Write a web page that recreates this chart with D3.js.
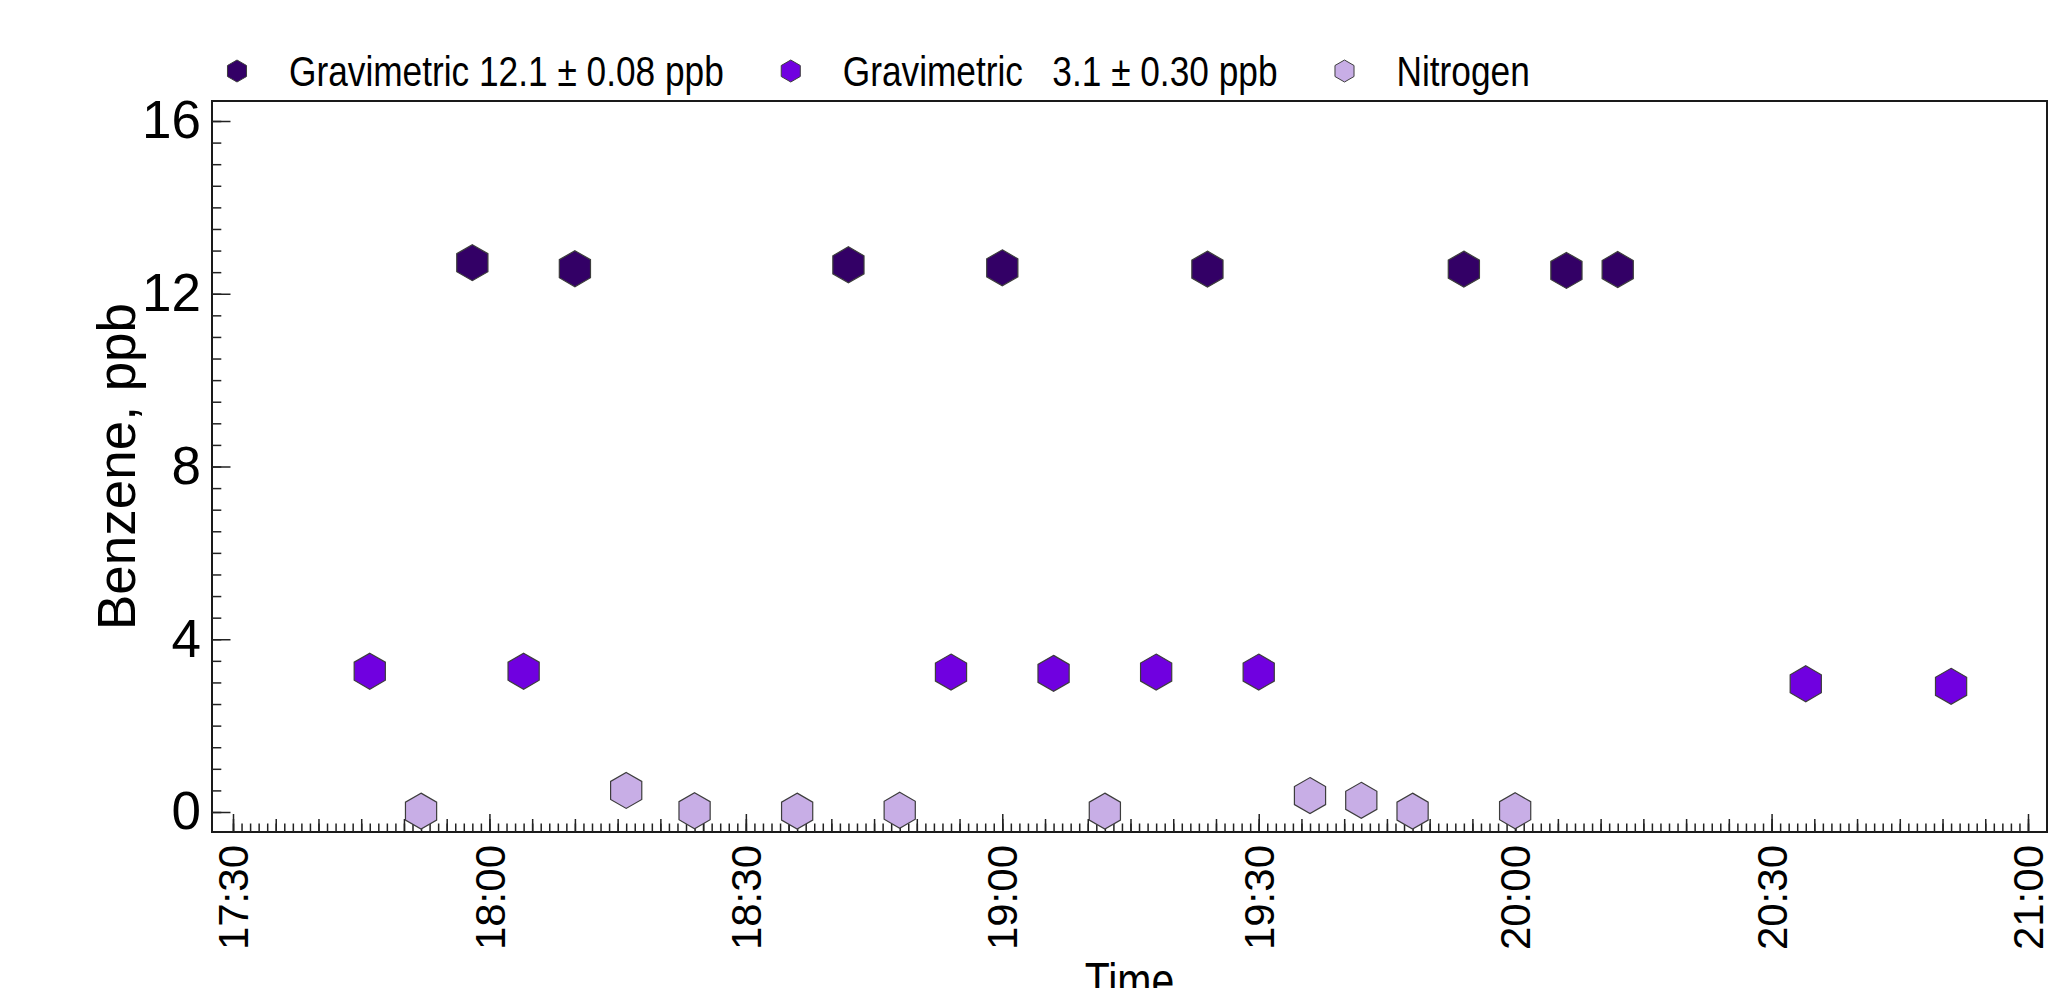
<!DOCTYPE html>
<html>
<head>
<meta charset="utf-8">
<script src="https://cdn.jsdelivr.net/npm/d3@7"></script>
<style>
  body { margin: 0; background: #fff; }
  svg { display: block; }
</style>
</head>
<body>
<svg id="chart"></svg>
<script>
// ---- data ----
const seriesNames = ['Gravimetric 12.1 ± 0.08 ppb', 'Gravimetric   3.1 ± 0.30 ppb', 'Nitrogen'];
const seriesColors = ['#330066', '#7000e0', '#c8aee6'];

const highTimes = ['17:58', '18:10', '18:42', '19:00', '19:24', '19:54', '20:06', '20:12'];
const highValues = [12.72, 12.58, 12.67, 12.60, 12.57, 12.57, 12.54, 12.56];

const lowTimes = ['17:46', '18:04', '18:54', '19:06', '19:18', '19:30', '20:34', '20:51'];
const lowValues = [3.26, 3.26, 3.24, 3.21, 3.24, 3.24, 2.97, 2.91];

const nitrogenTimes = ['17:52', '18:16', '18:24', '18:36', '18:48', '19:12', '19:36', '19:42', '19:48', '20:00'];
const nitrogenValues = [0.02, 0.50, 0.03, 0.02, 0.04, 0.02, 0.38, 0.27, 0.02, 0.03];

const xDomain = ['17:30', '21:00'];
const yTicks = [0, 4, 8, 12, 16];

const sans = '"Liberation Sans", Arial, Helvetica, sans-serif';
// no narrow face installed, so the condensed texts are squeezed horizontally
const narrowScale = 0.82;

// pointy-top hexagon for d3.symbol
const hexagon = {
  draw(context, size) {
    const r = Math.sqrt(size * 2 / (3 * Math.sqrt(3)));
    for (let i = 0; i < 6; i++) {
      const a = (-90 + 60 * i) * Math.PI / 180;
      const px = r * Math.cos(a), py = r * Math.sin(a);
      if (i === 0) context.moveTo(px, py); else context.lineTo(px, py);
    }
    context.closePath();
  }
};
const hexSize = r => 3 * Math.sqrt(3) / 2 * r * r;

class TimeScatter {

  constructor(_config) {
    this.config = {
      parentElement: _config.parentElement,
      containerWidth: 2050,
      containerHeight: 988,
      frame: {left: 212, right: 2047, top: 101, bottom: 832},
      pad: {x0: 21, x1: 19, y0: 20, y1: 20}
    };
    this.initVis();
  }

  initVis() {
    let vis = this;
    const f = vis.config.frame, p = vis.config.pad;
    const parse = d3.timeParse('%H:%M');
    vis.parse = parse;

    vis.svg = d3.select(vis.config.parentElement)
        .attr('width', vis.config.containerWidth)
        .attr('height', vis.config.containerHeight);

    vis.x = d3.scaleTime()
        .domain(xDomain.map(parse))
        .range([f.left + p.x0, f.right - p.x1]);

    vis.y = d3.scaleLinear()
        .domain([0, 16])
        .range([f.bottom - p.y0, f.top + p.y1]);

    // frame
    vis.svg.append('rect')
        .attr('x', f.left).attr('y', f.top)
        .attr('width', f.right - f.left).attr('height', f.bottom - f.top)
        .attr('fill', 'none').attr('stroke', '#1a1a1a').attr('stroke-width', 2);

    // x ticks: minute, 5-minute and 30-minute levels, pointing inward
    const xLevels = [
      {every: 1, size: 8.5},
      {every: 5, size: 13},
      {every: 30, size: 18}
    ];
    xLevels.forEach(l => {
      const g = vis.svg.append('g')
          .attr('transform', `translate(0,${f.bottom})`)
          .call(d3.axisBottom(vis.x)
              .ticks(d3.timeMinute.every(l.every))
              .tickSizeInner(-l.size).tickSizeOuter(0)
              .tickFormat(l.every === 30 ? d3.timeFormat('%H:%M') : ''));
      g.select('.domain').remove();
      g.selectAll('.tick line').attr('stroke', '#222').attr('stroke-width', 1.5);
      if (l.every === 30) {
        g.selectAll('.tick text')
            .attr('transform', 'rotate(-90)')
            .attr('text-anchor', 'end')
            .attr('x', -13).attr('y', 0).attr('dy', '0.35em')
            .attr('fill', '#000')
            .style('font-family', sans).style('font-size', '42px');
      } else {
        g.selectAll('.tick text').remove();
      }
    });

    // y ticks: minor every 0.5, major every 4
    const yMinor = vis.svg.append('g')
        .attr('transform', `translate(${f.left},0)`)
        .call(d3.axisLeft(vis.y).tickValues(d3.range(0, 16.01, 0.5))
            .tickSizeInner(-9.3).tickSizeOuter(0).tickFormat(''));
    yMinor.select('.domain').remove();
    yMinor.selectAll('.tick line').attr('stroke', '#222').attr('stroke-width', 1.5);

    const yMajor = vis.svg.append('g')
        .attr('transform', `translate(${f.left},0)`)
        .call(d3.axisLeft(vis.y).tickValues(yTicks)
            .tickSizeInner(-18.5).tickSizeOuter(0).tickPadding(11));
    yMajor.select('.domain').remove();
    yMajor.selectAll('.tick line').attr('stroke', '#222').attr('stroke-width', 1.5);
    yMajor.selectAll('.tick text')
        .attr('fill', '#000')
        .style('font-family', sans).style('font-size', '53px');

    // axis titles
    vis.svg.append('text')
        .attr('transform', `translate(135,${(f.top + f.bottom) / 2}) rotate(-90)`)
        .attr('text-anchor', 'middle')
        .style('font-family', sans).style('font-size', '53px')
        .text('Benzene, ppb');

    vis.svg.append('text')
        .attr('transform', `translate(${(f.left + f.right) / 2},${962 + 0.716 * 50}) scale(${narrowScale},1)`)
        .attr('text-anchor', 'middle')
        .style('font-family', sans).style('font-size', '50px')
        .text('Time');

    vis.chart = vis.svg.append('g');
    vis.legend = vis.svg.append('g');
  }

  updateVis() {
    let vis = this;
    const pack = (times, values) => times.map((t, i) => ({t: vis.parse(t), v: values[i]}));
    vis.series = [
      {name: seriesNames[0], color: seriesColors[0], points: pack(highTimes, highValues)},
      {name: seriesNames[1], color: seriesColors[1], points: pack(lowTimes, lowValues)},
      {name: seriesNames[2], color: seriesColors[2], points: pack(nitrogenTimes, nitrogenValues)}
    ];
    vis.renderVis();
  }

  renderVis() {
    let vis = this;
    const sym = d3.symbol().type(hexagon);

    vis.chart.selectAll('g.series')
        .data(vis.series)
      .join('g')
        .attr('class', 'series')
        .attr('fill', d => d.color)
      .selectAll('path')
        .data(d => d.points)
      .join('path')
        .attr('d', sym.size(hexSize(18))())
        .attr('transform', d => `translate(${vis.x(d.t)},${vis.y(d.v)})`)
        .attr('stroke', '#3d3d3d')
        .attr('stroke-width', 1.2);

    // legend laid out left to right
    let cx = 237;
    const ly = 71;
    vis.series.forEach(s => {
      vis.legend.append('path')
          .attr('d', d3.symbol().type(hexagon).size(hexSize(11))())
          .attr('transform', `translate(${cx},${ly})`)
          .attr('fill', s.color)
          .attr('stroke', '#3d3d3d').attr('stroke-width', 1);
      const t = vis.legend.append('text')
          .attr('transform', `translate(${cx + 52},${ly}) scale(${narrowScale},1)`)
          .attr('dy', '0.35em')
          .style('font-family', sans).style('font-size', '43px')
          .style('white-space', 'pre')
          .attr('xml:space', 'preserve')
          .text(s.name);
      cx = cx + 52 + t.node().getComputedTextLength() * narrowScale + 67;
    });
  }
}

const chart = new TimeScatter({parentElement: '#chart'});
chart.updateVis();
</script>
</body>
</html>
